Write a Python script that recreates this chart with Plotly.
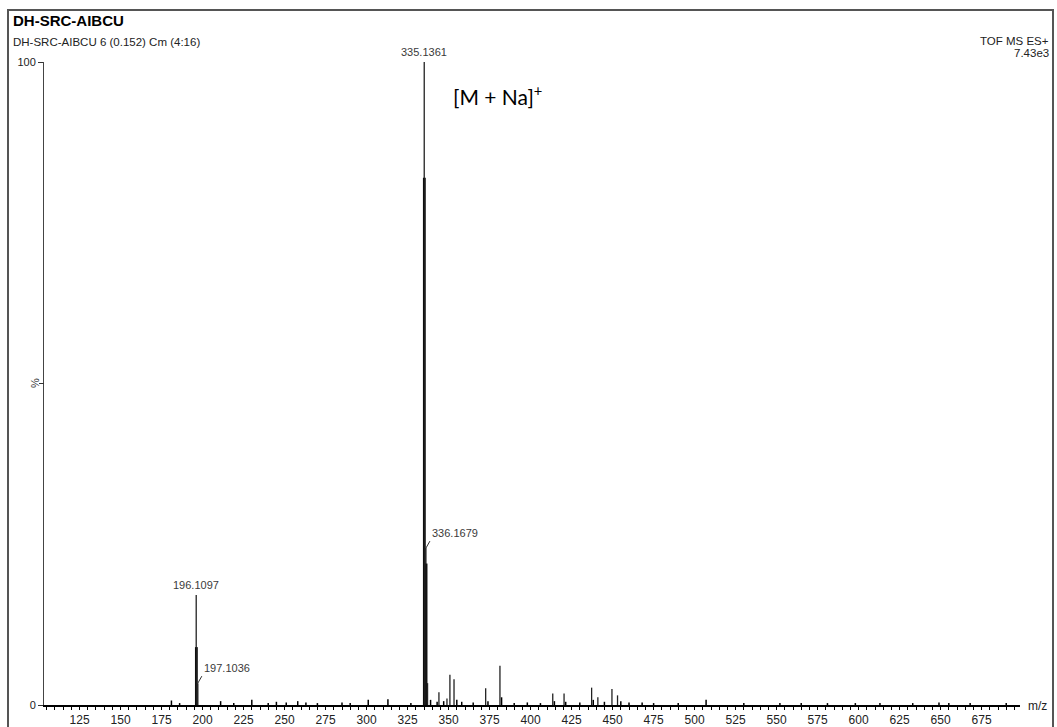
import plotly.graph_objects as go

# ---- data ----
peak_mz = [196.1097, 197.1036, 335.1361, 336.1679, 337.17, 344.1, 349.0, 350.8, 353.3,
           372.6, 381.3084, 413.5, 420.4, 437.2, 441.0, 449.6, 453.0]
peak_int = [17.1, 3.4, 100.0, 24.4, 3.4, 2.0, 1.0, 4.7, 4.0,
            2.6, 6.1, 1.8, 1.8, 2.7, 1.2, 2.5, 1.5]

shoulder_mz = [196.2, 335.2, 336.25]
shoulder_int = [9.0, 82.0, 22.0]

noise_mz = [181.0, 186.0, 211.0, 219.0, 230.0, 240.0, 245.0, 251.0, 258.0, 263.0, 270.0,
            285.0, 290.0, 301.0, 313.0, 327.0, 339.0, 343.0, 347.0, 355.0, 358.0, 365.0,
            374.0, 382.3, 390.0, 398.0, 406.0, 414.5, 421.4, 430.0, 438.2, 445.0, 455.0,
            460.0, 468.0, 475.0, 490.0, 507.0, 530.0, 552.0, 565.0, 581.0, 598.0, 613.0,
            633.0, 649.0, 655.0, 668.0, 690.0]
noise_int = [0.7, 0.3, 0.6, 0.3, 0.8, 0.3, 0.5, 0.4, 0.6, 0.4, 0.3,
             0.4, 0.3, 0.8, 0.9, 0.3, 0.8, 0.5, 0.6, 0.8, 0.5, 0.4,
             0.6, 1.2, 0.3, 0.4, 0.3, 0.6, 0.5, 0.4, 0.8, 0.5, 0.6,
             0.4, 0.4, 0.3, 0.3, 0.8, 0.3, 0.3, 0.3, 0.3, 0.3, 0.3,
             0.3, 0.4, 0.3, 0.3, 0.3]

labels = [("196.1097", 196.1097, 17.1),
          ("335.1361", 335.1361, 100.0)]
arrow_labels = [("197.1036", 197.1036, 3.4, 4, -7),
                ("336.1679", 336.1679, 24.4, 4, -7)]

x_ticks = list(range(125, 700, 25))
y_ticks = [0, 100]
y_mid_tick = 50


def sticks(mz, inten):
    xs, ys = [], []
    for m, h in zip(mz, inten):
        xs += [m, m, None]
        ys += [0, h, None]
    return xs, ys


fig = go.Figure()
nx, ny = sticks(noise_mz, noise_int)
fig.add_trace(go.Scatter(x=nx, y=ny, mode="lines", line=dict(color="black", width=1.5),
                         hoverinfo="skip", cliponaxis=False))
sx, sy = sticks(shoulder_mz, shoulder_int)
fig.add_trace(go.Scatter(x=sx, y=sy, mode="lines", line=dict(color="black", width=2.8),
                         hoverinfo="skip", cliponaxis=False))
px_, py_ = sticks(peak_mz, peak_int)
fig.add_trace(go.Scatter(x=px_, y=py_, mode="lines", line=dict(color="#222", width=1.3),
                         hoverinfo="skip", cliponaxis=False))

# plot-area geometry in pixels
L, R, T, B = 44, 1020, 62, 705
W, H = R - L, B - T


def px(x):
    return (x - L) / W


def py(y):
    return (B - y) / H


lab_font = dict(family="Liberation Sans", size=11, color="#3a3a3a")
ann = []
for txt, m, h in labels:
    ann.append(dict(x=m, y=h, xref="x", yref="y", text=txt, showarrow=False,
                    yanchor="bottom", xanchor="center", yshift=2, font=lab_font))
for txt, m, h, dx, dy in arrow_labels:
    ann.append(dict(x=m, y=h, xref="x", yref="y", text=txt, showarrow=True,
                    arrowhead=0, arrowwidth=1, arrowcolor="#333", ax=dx, ay=dy,
                    xanchor="left", yanchor="bottom", font=lab_font))

ann += [
    dict(x=px(11), y=py(21), xref="paper", yref="paper", text="<b>DH-SRC-AIBCU</b>",
         showarrow=False, xanchor="left", yanchor="middle",
         font=dict(family="Liberation Sans", size=15, color="black")),
    dict(x=px(11), y=py(42), xref="paper", yref="paper",
         text="DH-SRC-AIBCU 6 (0.152) Cm (4:16)",
         showarrow=False, xanchor="left", yanchor="middle",
         font=dict(family="Liberation Sans", size=11.5, color="#222")),
    dict(x=px(1051), y=py(41), xref="paper", yref="paper", text="TOF MS ES+",
         showarrow=False, xanchor="right", yanchor="middle",
         font=dict(family="Liberation Sans", size=11.5, color="#222")),
    dict(x=px(1051), y=py(53), xref="paper", yref="paper", text="7.43e3",
         showarrow=False, xanchor="right", yanchor="middle",
         font=dict(family="Liberation Sans", size=11.5, color="#222")),
    dict(x=px(1037), y=py(706), xref="paper", yref="paper", text="m/z",
         showarrow=False, xanchor="center", yanchor="middle",
         font=dict(family="Liberation Sans", size=12, color="#222")),
    dict(x=px(35), y=py(383), xref="paper", yref="paper", text="%",
         showarrow=False, textangle=-90, xanchor="center", yanchor="middle",
         font=dict(family="Liberation Sans", size=11, color="#333")),
    dict(x=px(497), y=py(95), xref="paper", yref="paper", text="[M + Na]<sup>+</sup>",
         showarrow=False, xanchor="center", yanchor="middle",
         font=dict(family="Lato", size=21, color="black")),
]

fig.update_layout(
    width=1057, height=727,
    margin=dict(l=L, r=1057 - R, t=T, b=727 - B, autoexpand=False),
    paper_bgcolor="white", plot_bgcolor="white",
    showlegend=False,
    annotations=ann,
    shapes=[dict(type="rect", xref="paper", yref="paper",
                 x0=px(8), x1=px(1053), y0=py(740), y1=py(10),
                 line=dict(color="#555", width=2), layer="below"),
            dict(type="line", xref="paper", yref="y",
                 x0=px(L - 5), x1=px(L), y0=y_mid_tick, y1=y_mid_tick,
                 line=dict(color="#333", width=1))],
    xaxis=dict(range=[103.3, 698.4], tickvals=x_ticks, ticks="outside", ticklen=3,
               tickcolor="black", showgrid=False, zeroline=False, automargin=False,
               showline=True, linecolor="black", linewidth=2,
               minor=dict(dtick=5, tick0=100, ticks="outside", ticklen=3, tickcolor="black"),
               tickfont=dict(family="Liberation Sans", size=12, color="#222")),
    yaxis=dict(range=[0, 100], tickvals=y_ticks,
               ticks="outside", ticklen=5, tickcolor="#333", showgrid=False,
               zeroline=False, showline=True, linecolor="#444", linewidth=1,
               automargin=False,
               tickfont=dict(family="Liberation Sans", size=11, color="#222")),
)

fig.write_html("out.html")
